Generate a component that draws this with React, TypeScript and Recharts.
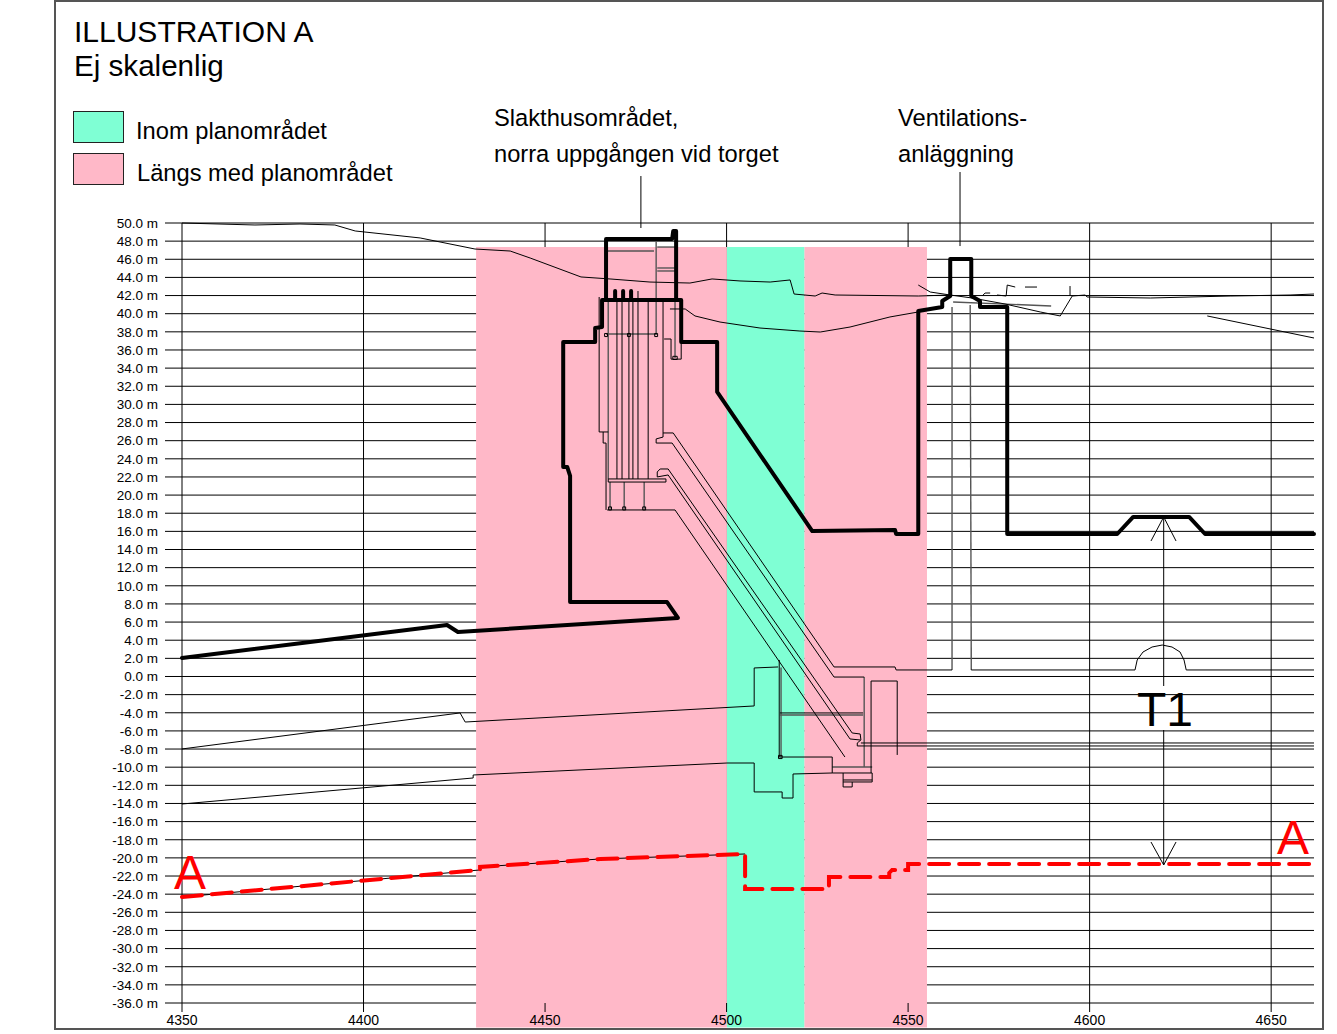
import React from "react";
import {
  ComposedChart,
  Line,
  XAxis,
  YAxis,
  CartesianGrid,
  ReferenceArea,
  ReferenceLine,
} from "recharts";

type Pt = [number, number];

const xTicks = [4350, 4400, 4450, 4500, 4550, 4600, 4650];
const yTicks = [
  50, 48, 46, 44, 42, 40, 38, 36, 34, 32, 30, 28, 26, 24, 22, 20, 18, 16, 14, 12, 10, 8, 6, 4, 2, 0,
  -2, -4, -6, -8, -10, -12, -14, -16, -18, -20, -22, -24, -26, -28, -30, -32, -34, -36,
];

const pinkBands = [
  [4431, 4500.1],
  [4521.4, 4555.2],
];
const greenBands = [[4500.1, 4521.4]];

// thick outline of tunnel and shafts
const mainProfile: Pt[] = [
  [4350, 2.04], [4423, 5.68], [4426, 4.91], [4486.6, 6.45], [4483.6, 8.21], [4456.9, 8.21], [4456.9, 22.11],
  [4456.1, 23.1], [4455, 23.1], [4455, 36.88], [4463.8, 36.88], [4463.8, 38.42], [4465.7, 38.53], [4465.7, 41.51],
  [4487.5, 41.51], [4487.5, 36.88], [4497.4, 36.88], [4497.4, 31.37], [4523.6, 16.04], [4546.4, 16.15],
  [4546.7, 15.71], [4552.8, 15.71], [4552.8, 40.3], [4559.4, 40.74], [4559.4, 41.4], [4561.6, 41.95],
  [4561.6, 46.03], [4567.4, 46.03], [4567.4, 41.95], [4569.8, 41.4], [4569.8, 40.74], [4577.3, 40.74],
  [4577.3, 15.71], [4607.6, 15.71], [4612, 17.59], [4627.4, 17.59], [4631.8, 15.71], [4661.8, 15.71],
];
const tower: Pt[] = [
  [4466.8, 41.51], [4466.8, 48.24], [4485, 48.24], [4485.3, 49.12], [4486.1, 49.12], [4486.1, 41.51],
];
const stub1: Pt[] = [[4469.3, 42.5], [4469.3, 41.51]];
const stub2: Pt[] = [[4471.5, 42.5], [4471.5, 41.51]];
const stub3: Pt[] = [[4473.7, 42.5], [4473.7, 41.51]];
const stub4: Pt[] = [[4475.6, 42.5], [4475.6, 41.51]];

// terrain lines
const surface: Pt[] = [
  [4350, 50], [4370.1, 49.78], [4382.5, 49.89], [4392.1, 49.78], [4397.7, 49.12], [4415.6, 48.35], [4430.7, 47.13],
  [4440.4, 46.91], [4445.9, 46.14], [4459.9, 44.05], [4467.9, 43.83], [4478.9, 43.49], [4489.9, 43.38], [4496, 43.83],
  [4503.7, 43.61], [4512, 43.49], [4517.5, 43.72], [4518.6, 42.17], [4524.4, 41.95], [4526.3, 42.28], [4529.9, 42.06],
  [4552.8, 41.95], [4561.6, 42.06],
];
const rockLine: Pt[] = [
  [4484.4, 40.52], [4488.6, 40.52], [4491.3, 39.75], [4498.2, 39.08], [4509.2, 38.42], [4520.2, 38.09],
  [4525.8, 37.98], [4534, 38.53], [4545, 39.64], [4552.8, 40.19],
];
const slopeRight: Pt[] = [
  [4552.8, 43.16], [4556.1, 42.39], [4561.6, 42.06], [4567.6, 41.73], [4576.7, 41.07], [4586.4, 40.19],
  [4591.9, 39.75], [4595.2, 41.95], [4598.8, 42.06], [4599.3, 41.84], [4616.7, 41.73], [4638.7, 41.95],
  [4655.2, 42.06], [4661.8, 42.17],
];
const post: Pt[] = [[4594.6, 43.05], [4594.6, 41.95]];
const dash1: Pt[] = [[4570.4, 41.95], [4571.2, 42.28], [4572.6, 42.28]];
const dash2: Pt[] = [[4574.5, 42.06], [4577, 41.95], [4577.3, 43.16], [4579.5, 42.94]];
const dash3: Pt[] = [[4582.2, 42.94], [4585.5, 42.94]];
const ventRoof: Pt[] = [[4562.4, 41.29], [4589.4, 40.85]];
const rockRight: Pt[] = [[4632.4, 39.75], [4661.8, 37.32]];

// lower layers
const layerUpper: Pt[] = [
  [4350, -7.99], [4426.6, -4.02], [4428, -5.02], [4507.6, -3.25], [4507.6, 0.94], [4514.2, 1.05],
];
const layerLower: Pt[] = [
  [4350, -14.06], [4430.2, -11.19], [4430.2, -10.86], [4500.1, -9.54], [4507.6, -9.54], [4507.6, -12.73],
  [4515.3, -12.73], [4515.3, -13.4], [4518.3, -13.4], [4518.3, -10.75], [4529.1, -10.64], [4540.1, -10.64],
];
const shaftA: Pt[] = [[4514.5, 1.82], [4514.5, -8.88], [4529.1, -8.88], [4529.1, -10.64]];
const shaftB: Pt[] = [[4515, 1], [4515, -8.88]];
const crossA: Pt[] = [[4514.7, -4.02], [4537.6, -4.02]];
const crossB: Pt[] = [[4514.7, -4.25], [4537.6, -4.25]];
const wall: Pt[] = [[4537.9, -0.06], [4537.9, -9.98]];

// inclined passages
const ramp1: Pt[] = [
  [4482.5, 41.51], [4482.5, 26.85], [4485.3, 26.85], [4529.6, 1.05], [4546.4, 1.05], [4546.7, 0.72], [4562.1, 0.72],
];
const ramp2: Pt[] = [
  [4482.5, 26.85], [4482.5, 26.4], [4480.6, 26.19], [4480.6, 25.74], [4485, 25.74], [4529.6, -0.06], [4537.9, -0.06],
];
const ramp3: Pt[] = [
  [4480.9, 22], [4480.9, 22.55], [4481.7, 22.88], [4483.9, 22.88], [4534.6, -6.23], [4536.8, -6.34], [4537, -7],
  [4536, -7.33], [4536, -7.66], [4661.8, -7.66],
];
const ramp3b: Pt[] = [[4537, -7.33], [4661.8, -7.33]];
const ramp4: Pt[] = [[4480.9, 22], [4483.9, 22.22], [4534, -6.89], [4536.8, -7]];
const ramp5: Pt[] = [[4467.1, 18.36], [4485.8, 18.36], [4532.6, -8.88]];

// building columns
const leftEdge: Pt[] = [[4464.9, 41.84], [4464.9, 26.96], [4467.4, 26.96]];
const leftEdge2: Pt[] = [[4466, 26.96], [4466, 25.74], [4466.8, 25.74], [4466.8, 18.36]];
const col1: Pt[] = [[4467.4, 41.51], [4467.4, 21.78]];
const col2: Pt[] = [[4469.8, 41.51], [4469.8, 21.78]];
const col3: Pt[] = [[4471.2, 41.51], [4471.2, 21.78]];
const col4: Pt[] = [[4473.1, 41.51], [4473.1, 21.78]];
const col5: Pt[] = [[4474.2, 41.51], [4474.2, 21.78]];
const col6: Pt[] = [[4475.6, 41.51], [4475.6, 21.78]];
const col7: Pt[] = [[4478.4, 41.51], [4478.4, 21.78]];
const platform: Pt[] = [[4467.4, 21.78], [4483.3, 21.78], [4483.3, 21.44], [4467.4, 21.44], [4467.4, 21.78]];
const support1: Pt[] = [[4467.9, 21.44], [4467.9, 18.5]];
const support2: Pt[] = [[4471.8, 21.44], [4471.8, 18.5]];
const support3: Pt[] = [[4477.3, 21.44], [4477.3, 18.5]];
const floorLine: Pt[] = [[4466.8, 37.76], [4480.6, 37.76]];
const shaftC: Pt[] = [[4480.6, 48.24], [4480.6, 37.65]];
const sideDuct: Pt[] = [[4485.8, 41.51], [4485.8, 35.12]];
const sideRoom: Pt[] = [[4482.8, 37.21], [4484.7, 37.21], [4484.7, 34.99], [4487.5, 34.99], [4487.5, 36.88]];
const towerFloor1: Pt[] = [[4466.8, 46.91], [4480, 46.91]];
const towerFloor2: Pt[] = [[4480.9, 47.35], [4486, 47.35]];
const towerFloor3: Pt[] = [[4480.9, 45.04], [4486, 45.04]];
const towerFloor4: Pt[] = [[4480.9, 44.71], [4486, 44.71]];

// small hatches at the foot of the shafts
const hatch1: Pt[] = [[4466.4, 37.82], [4467.2, 37.82], [4467.2, 37.48], [4466.4, 37.48], [4466.4, 37.82]];
const hatch2: Pt[] = [[4472.7, 37.82], [4473.5, 37.82], [4473.5, 37.48], [4472.7, 37.48], [4472.7, 37.82]];
const hatch3: Pt[] = [[4480.2, 37.82], [4481, 37.82], [4481, 37.48], [4480.2, 37.48], [4480.2, 37.82]];
const hatch4: Pt[] = [[4485.2, 35.3], [4486.4, 35.3], [4486.4, 34.95], [4485.2, 34.95], [4485.2, 35.3]];
const hatch5: Pt[] = [[4467.5, 18.7], [4468.3, 18.7], [4468.3, 18.36], [4467.5, 18.36], [4467.5, 18.7]];
const hatch6: Pt[] = [[4471.4, 18.7], [4472.2, 18.7], [4472.2, 18.36], [4471.4, 18.36], [4471.4, 18.7]];
const hatch7: Pt[] = [[4476.9, 18.7], [4477.7, 18.7], [4477.7, 18.36], [4476.9, 18.36], [4476.9, 18.7]];
const hatch8: Pt[] = [[4514.3, -8.7], [4515.3, -8.7], [4515.3, -9.05], [4514.3, -9.05], [4514.3, -8.7]];

// east side and bottom details
const eastBox: Pt[] = [[4539.8, -10.64], [4539.8, -0.5], [4547, -0.5], [4547, -8.65]];
const sump: Pt[] = [[4532.1, -10.64], [4532.1, -11.63], [4540.1, -11.63], [4540.1, -10.64]];
const sumpPit: Pt[] = [[4532.1, -11.63], [4532.1, -12.18], [4534.6, -12.18], [4534.6, -11.63]];
const sumpRoof: Pt[] = [[4532.1, -11.41], [4540.1, -11.41]];
const sumpTop: Pt[] = [[4529.1, -9.98], [4540.1, -9.98]];
const ventLeft: Pt[] = [[4562.1, 40.74], [4562.1, 0.72]];
const ventRight: Pt[] = [[4567.1, 40.96], [4567.4, 0.72]];
const trackLine: Pt[] = [
  [4567.4, 0.72], [4612.5, 0.72], [4613.1, 1.82], [4614.7, 2.7], [4617.2, 3.25], [4620, 3.47], [4622.7, 3.25],
  [4624.9, 2.7], [4626, 1.82], [4626.6, 0.72], [4661.8, 0.72],
];
const dimUpper: Pt[] = [[4620.4, 17.59], [4620.4, -1.05]];
const dimLower: Pt[] = [[4620.4, -5.9], [4620.4, -20.78]];
const arrowUp: Pt[] = [[4616.9, 14.94], [4620.4, 17.59], [4623.8, 14.94]];
const arrowDown: Pt[] = [[4616.9, -18.25], [4620.4, -20.78], [4623.8, -18.25]];

// leader lines of the two captions, above the plot
const leaderTop = [55.62, 55.18];
const leaderBottom = [47.46, 49.45];
const leaderX = [4564.3, 4476.4];

// red section line A-A
const sectionUnder: Pt[] = [[4350, -24.31], [4432.1, -21.33], [4432.1, -21], [4465.2, -20.12], [4505.1, -19.57]];
const sectionA: Pt[] = [
  [4350, -24.31], [4432.1, -21.33], [4432.1, -21], [4465.2, -20.12], [4505.1, -19.57], [4505.1, -23.43],
  [4528.2, -23.43], [4528.2, -22.1], [4544.8, -22.1], [4544.8, -21.66], [4545.6, -21.33], [4550, -21.33],
  [4550, -20.67], [4661.8, -20.67],
];

const thickSeries = [mainProfile, tower, stub1, stub2, stub3];
const thinSeries = [
  surface, rockLine, slopeRight, post, dash1, dash2, dash3, rockRight, layerUpper, layerLower, shaftA, crossA,
  ramp1, ramp2, ramp3, ramp3b, ramp4, ramp5, leftEdge, leftEdge2, col2, col3, col4, col5, col6, col7, platform,
  sideRoom, eastBox, sump, sumpPit, sumpRoof, trackLine, dimUpper, dimLower, arrowUp, arrowDown,
  sectionUnder, stub4, hatch1, hatch2, hatch3, hatch4, hatch5, hatch6, hatch7, hatch8,
];
const graySeries = [
  ventRoof, shaftB, crossB, wall, col1, floorLine, shaftC, sideDuct, ventLeft, ventRight, support1, support2,
  support3, towerFloor1, towerFloor2, towerFloor3, towerFloor4, sumpTop,
];

const toRows = (pts: Pt[]) => pts.map(([x, y]) => ({ x, y }));

const text = (left: number, top: number, size: number, color = "#000"): React.CSSProperties => ({
  position: "absolute",
  left,
  top,
  fontSize: size,
  lineHeight: 1,
  color,
  whiteSpace: "nowrap",
});

const swatch = (top: number, fill: string): React.CSSProperties => ({
  position: "absolute",
  left: 73,
  top,
  width: 49,
  height: 30,
  background: fill,
  border: "1px solid #222",
});

export default function App() {
  return (
    <div
      style={{
        position: "absolute",
        left: 0,
        top: 0,
        width: 1337,
        height: 1034,
        background: "#fff",
        fontFamily: "'Liberation Sans', Arial, sans-serif",
      }}
    >
      <div
        style={{
          position: "absolute",
          left: 54,
          top: 0,
          width: 1266,
          height: 1026,
          border: "2px solid #555",
        }}
      />
      <ComposedChart
        width={1337}
        height={1034}
        margin={{ top: 223, right: 23, bottom: 6, left: 92 }}
        style={{ position: "absolute", left: 0, top: 0 }}
      >
        <XAxis
          type="number"
          dataKey="x"
          domain={[4350, 4661.8]}
          ticks={xTicks}
          interval={0}
          height={25}
          axisLine={false}
          tickSize={9}
          tickMargin={3}
          tick={{ fontSize: 14, fill: "#000" }}
          tickLine={{ stroke: "#000" }}
        />
        <YAxis
          type="number"
          dataKey="y"
          domain={[-36, 50]}
          ticks={yTicks}
          interval={0}
          width={90}
          axisLine={false}
          tickSize={17}
          tickMargin={7}
          tick={{ fontSize: 13.5, fill: "#000" }}
          tickLine={{ stroke: "#000" }}
          tickFormatter={(v: number) => `${v.toFixed(1)} m`}
        />
        {pinkBands.map(([a, b]) => (
          <ReferenceArea key={a} x1={a} x2={b} y1={-38.7} y2={47.35} fill="#FFB8C8" fillOpacity={1} stroke="none" ifOverflow="visible" />
        ))}
        {greenBands.map(([a, b]) => (
          <ReferenceArea key={a} x1={a} x2={b} y1={-38.7} y2={47.35} fill="#7FFFD4" fillOpacity={1} stroke="none" ifOverflow="visible" />
        ))}
        <CartesianGrid stroke="#000" strokeWidth={1} horizontalValues={yTicks} verticalValues={xTicks} />
        {leaderX.map((x, i) => (
          <ReferenceLine
            key={x}
            segment={[{ x, y: leaderTop[i] }, { x, y: leaderBottom[i] }]}
            stroke="#000"
            strokeWidth={1}
            ifOverflow="visible"
          />
        ))}
        {graySeries.map((s, i) => (
          <Line key={`g${i}`} data={toRows(s)} dataKey="y" stroke="#555" strokeWidth={1.4} dot={false} activeDot={false} isAnimationActive={false} legendType="none" />
        ))}
        {thinSeries.map((s, i) => (
          <Line key={`t${i}`} data={toRows(s)} dataKey="y" stroke="#000" strokeWidth={1} dot={false} activeDot={false} isAnimationActive={false} legendType="none" />
        ))}
        {thickSeries.map((s, i) => (
          <Line key={`k${i}`} data={toRows(s)} dataKey="y" stroke="#000" strokeWidth={4} strokeLinejoin="round" strokeLinecap="round" dot={false} activeDot={false} isAnimationActive={false} legendType="none" />
        ))}
        <Line data={toRows(sectionA)} dataKey="y" stroke="#FF0000" strokeWidth={4} strokeLinecap="round" strokeDasharray="20 10" dot={false} activeDot={false} isAnimationActive={false} legendType="none" />
      </ComposedChart>

      <div style={text(74, 17, 30)}>ILLUSTRATION A</div>
      <div style={text(74, 51, 29.6)}>Ej skalenlig</div>

      <div style={swatch(111, "#7FFFD4")} />
      <div style={swatch(153, "#FFB8C8")} />
      <div style={text(136, 120, 23.7)}>Inom planområdet</div>
      <div style={text(137, 162, 23.7)}>Längs med planområdet</div>

      <div style={text(494, 107, 23.7)}>Slakthusområdet,</div>
      <div style={text(494, 143, 23.7)}>norra uppgången vid torget</div>
      <div style={text(898, 107, 23.7)}>Ventilations-</div>
      <div style={text(898, 143, 23.7)}>anläggning</div>

      <div style={text(1137, 686, 48)}>T1</div>
      <div style={text(174, 849, 48, "#FF0000")}>A</div>
      <div style={text(1277, 814, 48, "#FF0000")}>A</div>
    </div>
  );
}
